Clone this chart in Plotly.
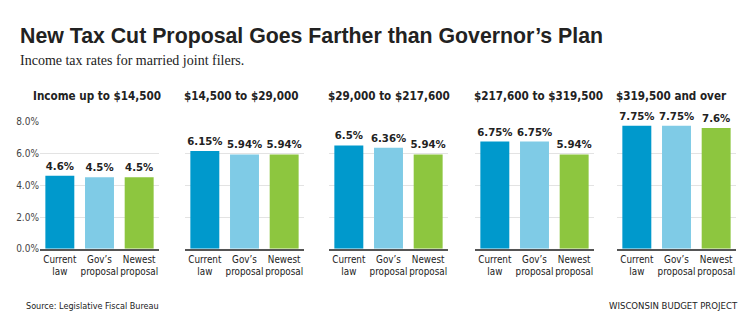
import plotly.graph_objects as go

# Income brackets and tax rates (%)
brackets = ["Income up to $14,500", "$14,500 to $29,000", "$29,000 to $217,600",
            "$217,600 to $319,500", "$319,500 and over"]
categories = ["Current<br>law", "Gov\u2019s<br>proposal", "Newest<br>proposal"]
current_law = [4.6, 6.15, 6.5, 6.75, 7.75]
gov_proposal = [4.5, 5.94, 6.36, 6.75, 7.75]
newest_proposal = [4.5, 5.94, 5.94, 5.94, 7.6]

colors = ["#0099CC", "#7FCBE6", "#8DC63F"]
y_ticks = [0, 2, 4, 6, 8]

W, H = 752, 331
NARROW = "DejaVu Sans Condensed"
SANS = "Liberation Sans, Arial, sans-serif"
SERIF = "Liberation Serif, Times New Roman, serif"


def nfont(size, color="#222222", bold=False):
    f = dict(family=NARROW, size=size, color=color)
    if bold:
        f["weight"] = "bold"
    return f


# panel placement in pixels
panel_left = [40, 185, 329, 475, 617]
panel_width = 119
plot_top, plot_bottom = 120, 252

fig = go.Figure()
annotations = []

for i, name in enumerate(brackets):
    vals = [current_law[i], gov_proposal[i], newest_proposal[i]]
    n = "" if i == 0 else str(i + 1)
    fig.add_trace(go.Bar(
        x=categories, y=vals,
        marker=dict(color=colors, line=dict(width=0)),
        text=[f"{v:g}%" for v in vals],
        textposition="outside",
        constraintext="none",
        textfont=nfont(11.3, bold=True),
        cliponaxis=False,
        xaxis="x" + n, yaxis="y" + n,
        showlegend=False,
        hoverinfo="skip",
    ))
    x0 = panel_left[i] / W
    x1 = (panel_left[i] + panel_width) / W
    fig.layout["xaxis" + n] = dict(
        domain=[x0, x1], anchor="y" + n,
        showline=True, linecolor="#555555", linewidth=2,
        showgrid=False, ticks="", fixedrange=True, tickangle=0,
        tickfont=nfont(9.8),
    )
    fig.layout["yaxis" + n] = dict(
        domain=[(H - plot_bottom) / H, (H - plot_top) / H],
        anchor="x" + n, range=[0, 8],
        tickvals=y_ticks,
        ticktext=[f"{t:.1f}%" for t in y_ticks] if i == 0 else None,
        showticklabels=(i == 0),
        showgrid=True, gridcolor="#E3E3E3", gridwidth=1,
        zeroline=False, ticks="",
        tickfont=nfont(10, "#444444"),
    )
    annotations.append(dict(
        text=f"<b>{name}</b>", x=(panel_left[i] - 3) / W if i else 31 / W,
        y=1 - 93 / H, xref="paper", yref="paper",
        xanchor="left", yanchor="middle", showarrow=False,
        font=nfont(11.6),
    ))

annotations += [
    dict(text="<b>New Tax Cut Proposal Goes Farther than Governor\u2019s Plan</b>",
         x=18 / W, y=1 - 31 / H, xref="paper", yref="paper",
         xanchor="left", yanchor="middle", showarrow=False,
         font=dict(family=SANS, size=21.3, color="#222222")),
    dict(text="Income tax rates for married joint filers.",
         x=18 / W, y=1 - 57 / H, xref="paper", yref="paper",
         xanchor="left", yanchor="middle", showarrow=False,
         font=dict(family=SERIF, size=14, color="#222222")),
    dict(text="Source: Legislative Fiscal Bureau",
         x=24 / W, y=1 - 311 / H, xref="paper", yref="paper",
         xanchor="left", yanchor="middle", showarrow=False,
         font=nfont(9)),
    dict(text="WISCONSIN BUDGET PROJECT",
         x=740 / W, y=1 - 311 / H, xref="paper", yref="paper",
         xanchor="right", yanchor="middle", showarrow=False,
         font=nfont(9.5)),
]

fig.update_layout(
    width=W, height=H,
    margin=dict(l=0, r=0, t=0, b=0),
    paper_bgcolor="white", plot_bgcolor="white",
    bargap=0.27,
    annotations=annotations,
)

fig.write_html("out.html", config={"displayModeBar": False})
